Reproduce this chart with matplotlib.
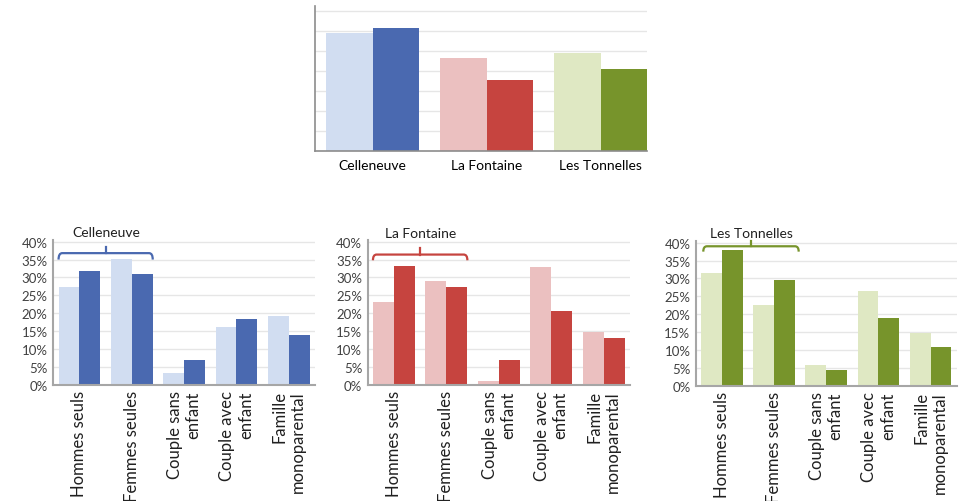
import matplotlib
matplotlib.use("Agg")
import matplotlib.pyplot as plt
from matplotlib.path import Path
from matplotlib.patches import PathPatch

plt.rcParams['font.family'] = ['Lato', 'DejaVu Sans']

# ---- data ----
districts = ["Celleneuve", "La Fontaine", "Les Tonnelles"]
top_light = [58.7, 46.2, 48.9]
top_dark = [61.2, 35.4, 40.9]

categories = ["Hommes seuls", "Femmes seules", "Couple sans\nenfant",
              "Couple avec\nenfant", "Famille\nmonoparental"]
cell_light = [27.2, 35.2, 3.4, 16.2, 19.2]
cell_dark = [31.7, 31.0, 6.8, 18.4, 13.8]
lf_light = [23.0, 29.1, 1.1, 32.8, 14.8]
lf_dark = [33.1, 27.2, 6.8, 20.7, 13.0]
lt_light = [31.4, 22.6, 5.9, 26.4, 14.8]
lt_dark = [37.9, 29.5, 4.3, 18.8, 10.8]

yticks = [0, 5, 10, 15, 20, 25, 30, 35, 40]
ytick_labels = [f"{v}%" for v in yticks]

colors = {
    "Celleneuve": ("#d1ddf1", "#4a69b0"),
    "La Fontaine": ("#ebc0c0", "#c6443f"),
    "Les Tonnelles": ("#dfe8c3", "#77942b"),
}

GRID = "#e6e6e6"
SPINE = "#a6a6a6"

fig = plt.figure(figsize=(9.73, 5.02), dpi=100)

# ---- top chart ----
ax = fig.add_axes([0.3237, 0.6978, 0.3413, 0.2889])
w = 0.406
xs = list(range(len(districts)))
lights = [colors[d][0] for d in districts]
darks = [colors[d][1] for d in districts]
ax.bar([x - w for x in xs], top_light, width=w, align='edge', color=lights, zorder=2)
ax.bar(xs, top_dark, width=w, align='edge', color=darks, zorder=2)
ax.set_xlim(-0.506, 2.406)
ax.set_ylim(0, 72.5)
ax.set_yticks(range(10, 80, 10))
ax.set_yticklabels([])
ax.tick_params(axis='y', length=0)
ax.set_xticks(xs)
ax.set_xticklabels(districts, fontsize=10)
ax.tick_params(axis='x', length=0, pad=6)
ax.yaxis.grid(True, color=GRID, lw=1)
ax.set_axisbelow(True)
for s in ['top', 'right']:
    ax.spines[s].set_visible(False)
ax.spines['left'].set_color('#8c8c8c')
ax.spines['left'].set_linewidth(1.2)
ax.spines['bottom'].set_color('#8c8c8c')
ax.spines['bottom'].set_linewidth(1.2)


def bracket(ax, x0, x1, yh, yend, ytop, color):
    dx = 0.07
    xc = (x0 + x1) / 2
    verts = [(x0, yend), (x0, yh), (x0 + dx, yh),
             (x1 - dx, yh), (x1, yh), (x1, yend)]
    codes = [Path.MOVETO, Path.CURVE3, Path.CURVE3,
             Path.LINETO, Path.CURVE3, Path.CURVE3]
    ax.add_patch(PathPatch(Path(verts, codes), fill=False, edgecolor=color,
                           lw=1.6, clip_on=False, zorder=5))
    ax.plot([xc, xc], [yh, ytop], color=color, lw=1.6, clip_on=False, zorder=5)


panels = [
    ("Celleneuve", cell_light, cell_dark, [0.0548, 0.2317, 0.2689, 0.2884],
     (-0.4, 1.4, 36.8, 35.0, 38.4), (0.52, 42.7)),
    ("La Fontaine", lf_light, lf_dark, [0.3779, 0.2317, 0.2696, 0.2884],
     (-0.4, 1.4, 36.4, 34.8, 38.2), (0.51, 42.5)),
    ("Les Tonnelles", lt_light, lt_dark, [0.7153, 0.2297, 0.2679, 0.2884],
     (-0.36, 1.47, 39.0, 37.5, 40.4), (0.56, 42.8)),
]

bw = 0.4
for name, light, dark, pos, br, tpos in panels:
    ax = fig.add_axes(pos)
    xs = list(range(len(categories)))
    cl, cd = colors[name]
    ax.bar([x - bw for x in xs], light, width=bw, align='edge', color=cl, zorder=2)
    ax.bar(xs, dark, width=bw, align='edge', color=cd, zorder=2)
    ax.set_xlim(-0.5, 4.5)
    ax.set_ylim(0, 40.5)
    ax.set_yticks(yticks)
    ax.set_yticklabels(ytick_labels, fontsize=9.5, color='#404040')
    ax.tick_params(axis='y', length=0, pad=4)
    ax.set_xticks(xs)
    ax.set_xticklabels(categories, fontsize=12, rotation=90, ha='center',
                       va='top', multialignment='right', color='#202020')
    ax.tick_params(axis='x', length=0, pad=4)
    ax.yaxis.grid(True, color=GRID, lw=1)
    ax.set_axisbelow(True)
    for s in ['top', 'right']:
        ax.spines[s].set_visible(False)
    ax.spines['left'].set_color(SPINE)
    ax.spines['left'].set_linewidth(1.5)
    ax.spines['bottom'].set_color(SPINE)
    ax.spines['bottom'].set_linewidth(1.5)
    bracket(ax, *br, color=cd)
    ax.text(tpos[0], tpos[1], name, fontsize=10, ha='center', va='center',
            color='#202020', clip_on=False)

fig.savefig("out.png", dpi=100)
